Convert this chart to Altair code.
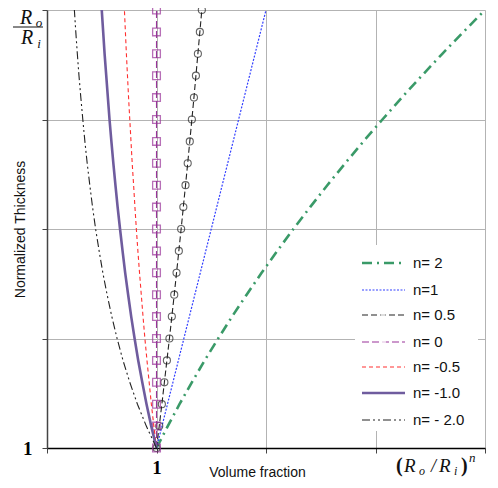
import altair as alt
import pandas as pd

# Normalized thickness (y) sampled every 0.05 from 1 to Ro/Ri = 2
y_vals = [1.00, 1.05, 1.10, 1.15, 1.20, 1.25, 1.30, 1.35, 1.40, 1.45, 1.50,
          1.55, 1.60, 1.65, 1.70, 1.75, 1.80, 1.85, 1.90, 1.95, 2.00]

# Volume fraction (x) read for each series
x_n2 = [1.000, 1.103, 1.210, 1.323, 1.440, 1.563, 1.690, 1.823, 1.960, 2.103, 2.250,
        2.403, 2.560, 2.723, 2.890, 3.063, 3.240, 3.423, 3.610, 3.803, 4.000]
x_n1 = [1.00, 1.05, 1.10, 1.15, 1.20, 1.25, 1.30, 1.35, 1.40, 1.45, 1.50,
        1.55, 1.60, 1.65, 1.70, 1.75, 1.80, 1.85, 1.90, 1.95, 2.00]
x_n05 = [1.000, 1.025, 1.049, 1.072, 1.095, 1.118, 1.140, 1.162, 1.183, 1.204, 1.225,
         1.245, 1.265, 1.285, 1.304, 1.323, 1.342, 1.360, 1.378, 1.396, 1.414]
x_n0 = [1.0, 1.0, 1.0, 1.0, 1.0, 1.0, 1.0, 1.0, 1.0, 1.0, 1.0,
        1.0, 1.0, 1.0, 1.0, 1.0, 1.0, 1.0, 1.0, 1.0, 1.0]
x_nm05 = [1.000, 0.976, 0.953, 0.933, 0.913, 0.894, 0.877, 0.861, 0.845, 0.830, 0.816,
          0.803, 0.791, 0.778, 0.767, 0.756, 0.745, 0.735, 0.725, 0.716, 0.707]
x_nm1 = [1.000, 0.952, 0.909, 0.870, 0.833, 0.800, 0.769, 0.741, 0.714, 0.690, 0.667,
         0.645, 0.625, 0.606, 0.588, 0.571, 0.556, 0.541, 0.526, 0.513, 0.500]
x_nm2 = [1.000, 0.907, 0.826, 0.756, 0.694, 0.640, 0.592, 0.549, 0.510, 0.476, 0.444,
         0.416, 0.391, 0.367, 0.346, 0.327, 0.309, 0.292, 0.277, 0.263, 0.250]

series_names = ["n= 2", "n=1", "n= 0.5", "n= 0", "n= -0.5", "n= -1.0", "n= - 2.0"]
series_x = [x_n2, x_n1, x_n05, x_n0, x_nm05, x_nm1, x_nm2]

rows = []
for name, xs in zip(series_names, series_x):
    for xv, yv in zip(xs, y_vals):
        rows.append({"series": name, "x": xv, "y": yv})
df = pd.DataFrame(rows)

styles = {
    "n= 2": dict(color="#3a9a68", dash=[10, 5, 2, 5], width=2.6, marker=None),
    "n=1": dict(color="#3340ff", dash=[2, 1.5], width=1.2, marker=None),
    "n= 0.5": dict(color="#222222", dash=[6, 3], width=1.1, marker="circle"),
    "n= 0": dict(color="#993399", dash=[7, 3], width=1.1, marker="square"),
    "n= -0.5": dict(color="#ff3030", dash=[4, 3], width=1.1, marker=None),
    "n= -1.0": dict(color="#6f5c9e", dash=None, width=2.6, marker=None),
    "n= - 2.0": dict(color="#222222", dash=[8, 3, 2, 3, 2, 3], width=1.1, marker=None),
}

xscale = alt.Scale(domain=[0, 4], nice=False, zero=False)
yscale = alt.Scale(domain=[1, 2], nice=False, zero=False)

GRID = "#b3b3b3"
x_axis = alt.Axis(
    values=[0, 1, 2, 3, 4], labelExpr="datum.value == 1 ? '1' : ''",
    labelFont="Liberation Serif", labelFontWeight="bold", labelFontSize=19,
    labelColor="black", labelPadding=5, tickSize=5, tickColor="#444",
    domainColor="black", domainWidth=1.5, grid=True, gridColor=GRID, gridWidth=1,
    title="Volume fraction", titleFont="Liberation Sans", titleFontSize=14,
    titleFontWeight="normal", titleColor="#111", titleX=210, titleY=24,
    titleAlign="center", titleBaseline="middle",
)
y_axis = alt.Axis(
    values=[1, 1.25, 1.5, 1.75, 2], labelExpr="datum.value == 1 ? '1' : ''",
    labelFont="Liberation Serif", labelFontWeight="bold", labelFontSize=19,
    labelColor="black", labelPadding=10, tickSize=5, tickColor="#444",
    domainColor="#444", domainWidth=1.5, grid=True, gridColor=GRID, gridWidth=1,
    title="Normalized Thickness", titleFont="Liberation Sans", titleFontSize=14,
    titleFontWeight="normal", titleColor="#111", titleX=-27, titleY=219,
    titleAngle=-90, titleAlign="center", titleBaseline="middle",
)

X = alt.X("x:Q", scale=xscale, axis=x_axis)
Y = alt.Y("y:Q", scale=yscale, axis=y_axis)

layers = []
for name in series_names:
    st = styles[name]
    sub = alt.Chart(df).transform_filter(alt.datum.series == name)
    kw = dict(color=st["color"], strokeWidth=st["width"], clip=False)
    if st["dash"]:
        kw["strokeDash"] = st["dash"]
    layers.append(sub.mark_line(**kw).encode(x=X, y=Y, order="y:Q"))
    if st["marker"] == "circle":
        layers.append(sub.mark_point(shape="circle", filled=False, size=50,
                                     color=st["color"], strokeWidth=1.1)
                      .encode(x=X, y=Y))
    elif st["marker"] == "square":
        layers.append(sub.mark_point(shape="square", filled=False, size=60,
                                     color=st["color"], strokeWidth=1.3)
                      .encode(x=X, y=Y))

one = pd.DataFrame({"a": [0]})


def txt(s, x, y, size, font="Liberation Sans", style="normal", weight="normal",
        align="left", baseline="middle", color="#111"):
    return alt.Chart(one).mark_text(
        text=s, font=font, fontSize=size, fontStyle=style, fontWeight=weight,
        align=align, baseline=baseline, color=color,
    ).encode(x=alt.value(x), y=alt.value(y))


# Legend background box
layers.append(alt.Chart(one).mark_rect(color="white").encode(
    x=alt.value(308), x2=alt.value(431), y=alt.value(235), y2=alt.value(421)))

legend_y = [253, 280, 305, 332, 357, 383, 410]
for name, ly in zip(series_names, legend_y):
    st = styles[name]
    kw = dict(color=st["color"], strokeWidth=st["width"])
    if st["dash"]:
        kw["strokeDash"] = st["dash"]
    layers.append(alt.Chart(one).mark_rule(**kw).encode(
        x=alt.value(315), x2=alt.value(358), y=alt.value(ly)))
    if st["marker"] == "circle":
        layers.append(alt.Chart(one).mark_point(shape="circle", filled=True, fill="white",
                                                size=25, color=st["color"], strokeWidth=1.1)
                      .encode(x=alt.value(336), y=alt.value(ly)))
    elif st["marker"] == "square":
        layers.append(alt.Chart(one).mark_point(shape="square", filled=True, fill="white",
                                                size=35, color=st["color"], strokeWidth=1.3)
                      .encode(x=alt.value(336), y=alt.value(ly)))
    layers.append(txt(name, 366, ly, 15))

# Top-left y label: Ro / Ri as a fraction
SERIF = "Liberation Serif"
layers += [
    txt("R", -21, 14, 20, font=SERIF, style="italic", align="center", baseline="alphabetic"),
    txt("o", -8, 17, 13, font=SERIF, style="italic", align="center", baseline="alphabetic"),
    alt.Chart(one).mark_rule(color="#111", strokeWidth=1).encode(
        x=alt.value(-34), x2=alt.value(-4), y=alt.value(17)),
    txt("R", -20, 34, 20, font=SERIF, style="italic", align="center", baseline="alphabetic"),
    txt("i", -8, 38, 13, font=SERIF, style="italic", align="center", baseline="alphabetic"),
]

# Bottom-right x label: (Ro / Ri)^n
layers += [
    txt("(", 349, 462, 20, font=SERIF, weight="bold", baseline="alphabetic"),
    txt("R", 357, 462, 19, font=SERIF, style="italic", baseline="alphabetic"),
    txt("o", 372, 465, 12, font=SERIF, style="italic", baseline="alphabetic"),
    txt("/", 384, 462, 18, font=SERIF, style="italic", baseline="alphabetic"),
    txt("R", 392, 462, 19, font=SERIF, style="italic", baseline="alphabetic"),
    txt("i", 407, 465, 12, font=SERIF, style="italic", baseline="alphabetic"),
    txt(")", 414, 462, 20, font=SERIF, weight="bold", baseline="alphabetic"),
    txt("n", 422, 452, 13, font=SERIF, style="italic", baseline="alphabetic"),
]

chart = alt.layer(*layers).properties(
    width=438, height=438,
    autosize=alt.AutoSizeParams(type="none"),
    padding={"left": 39, "top": 2, "right": 5, "bottom": 32},
).configure_view(stroke=None).configure(background="white")

chart.save("out.html", embed_options={"renderer": "svg", "actions": False})
